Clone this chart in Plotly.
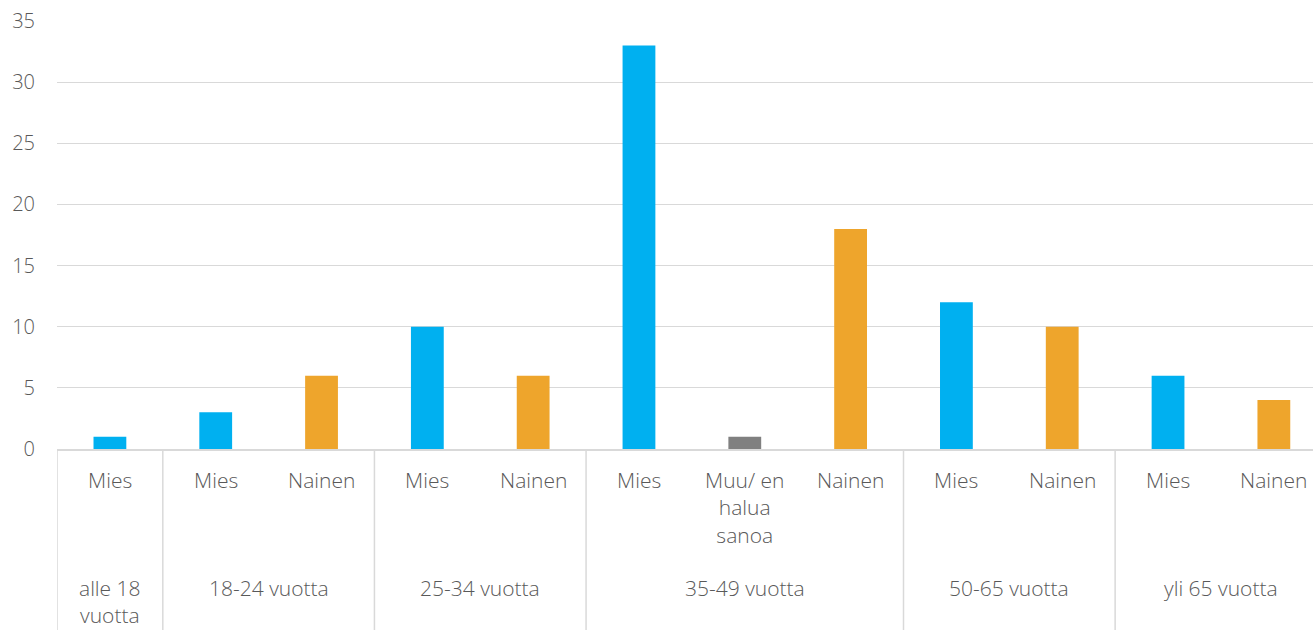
import plotly.graph_objects as go

groups = ["alle 18<br>vuotta", "18-24 vuotta", "18-24 vuotta", "25-34 vuotta", "25-34 vuotta",
          "35-49 vuotta", "35-49 vuotta", "35-49 vuotta", "50-65 vuotta", "50-65 vuotta",
          "yli 65 vuotta", "yli 65 vuotta"]
genders = ["Mies", "Mies", "Nainen", "Mies", "Nainen", "Mies", "Muu/ en<br>halua<br>sanoa", "Nainen",
           "Mies", "Nainen", "Mies", "Nainen"]
values = [1, 3, 6, 10, 6, 33, 1, 18, 12, 10, 6, 4]
y_ticks = [0, 5, 10, 15, 20, 25, 30, 35]

color_map = {"Mies": "#00B0F0", "Nainen": "#EEA52C"}
colors = [color_map.get(g, "#808080") for g in genders]
keys = [f"{g}|{s}" for g, s in zip(groups, genders)]

FONT = "Open Sans"
TXT = "#595959"
LINE = "#D9D9D9"

fig = go.Figure(go.Bar(x=keys, y=values, marker=dict(color=colors, line=dict(width=0)),
                       hoverinfo="skip"))

annotations = []
for k, s in zip(keys, genders):
    annotations.append(dict(x=k, xref="x", y=0, yref="paper", yanchor="top", yshift=-15,
                            text=s, showarrow=False, align="center",
                            font=dict(family=FONT, size=21, color=TXT, weight=300)))

unique_groups = []
for g in groups:
    if g not in unique_groups:
        unique_groups.append(g)
shapes = []
start = 0
for g in unique_groups:
    n = groups.count(g)
    center = start + (n - 1) / 2
    annotations.append(dict(x=center, xref="x", y=0, yref="paper", yanchor="top", yshift=-123,
                            text=g, showarrow=False, align="center",
                            font=dict(family=FONT, size=21, color=TXT, weight=300)))
    shapes.append(dict(type="line", xref="x", yref="paper", x0=start - 0.5, x1=start - 0.5,
                       y0=0, y1=-0.5, line=dict(color=LINE, width=1.5)))
    start += n

fig.update_layout(
    width=1313, height=630,
    margin=dict(l=57, r=0, t=21, b=181),
    paper_bgcolor="white", plot_bgcolor="white",
    bargap=0.69,
    showlegend=False,
    annotations=annotations,
    shapes=shapes,
    font=dict(family=FONT, size=20, color=TXT),
    xaxis=dict(type="category", range=[-0.5, 11.37], showticklabels=False, showgrid=False,
               showline=True, linecolor=LINE, linewidth=1.5, zeroline=False, ticks=""),
    yaxis=dict(range=[0, 35], tickvals=y_ticks, showgrid=True, gridcolor=LINE, gridwidth=1,
               zeroline=False, showline=False, ticks="", ticklabelstandoff=21,
               ticklabeloverflow="allow",
               tickfont=dict(family=FONT, size=20, color=TXT, weight=300)),
)

fig.write_html("out.html", config={"displayModeBar": False},
               post_script="document.body.style.margin='0px';document.body.style.overflow='hidden';")
